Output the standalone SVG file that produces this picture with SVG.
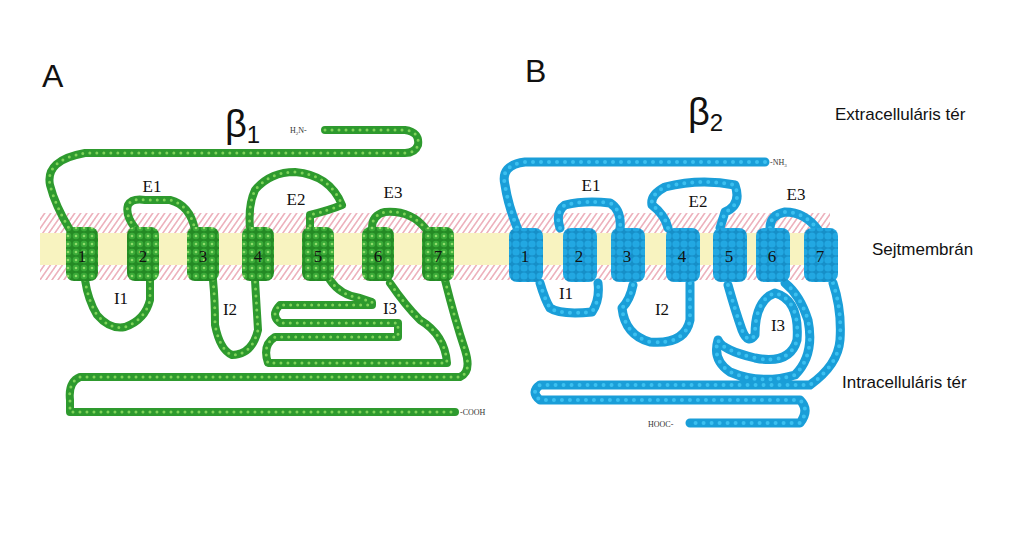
<svg xmlns="http://www.w3.org/2000/svg" width="1024" height="553" viewBox="0 0 1024 553">
<style>
.g{fill:none;stroke:#2e9a2e;stroke-width:8;stroke-linecap:round;stroke-linejoin:round}
.gd{fill:none;stroke:#7fd35a;stroke-width:3;stroke-dasharray:0 7;stroke-linecap:round}
.b{fill:none;stroke:#1a9ed8;stroke-width:9;stroke-linecap:round;stroke-linejoin:round}
.bd{fill:none;stroke:#3cc0f0;stroke-width:4;stroke-dasharray:0 8;stroke-linecap:round}
.lab{font-family:"Liberation Serif",serif;font-size:17px;fill:#111}
.sans{font-family:"Liberation Sans",Arial,sans-serif;fill:#111}
.tiny{font-family:"Liberation Serif",serif;font-size:8px;fill:#333}
</style>
<defs>
<pattern id="hatch" width="6" height="20" patternUnits="userSpaceOnUse" patternTransform="skewX(-35)">
<line x1="2" y1="0" x2="2" y2="20" stroke="#e79aa8" stroke-width="1.5"/>
</pattern>
<pattern id="gdots" width="8" height="8" patternUnits="userSpaceOnUse">
<rect width="8" height="8" fill="#248a24"/><circle cx="4" cy="4" r="3.3" fill="#3aab38"/><circle cx="4" cy="4" r="1.3" fill="#8fdc6a"/>
</pattern>
<pattern id="bdots" width="8" height="8" patternUnits="userSpaceOnUse">
<rect width="8" height="8" fill="#168fc8"/><circle cx="4" cy="4" r="3.6" fill="#22a8e2"/>
</pattern>
</defs>
<rect width="1024" height="553" fill="#fff"/>
<g id="membrane">
<rect x="40" y="213" width="790" height="20" fill="url(#hatch)"/>
<rect x="40" y="233" width="790" height="32" fill="#f8f3c0"/>
<rect x="40" y="265" width="790" height="15" fill="url(#hatch)"/>
</g>
<g id="connectors">
<path id="c1" class="g" d="M325 130 H405 Q420 132 418 145 Q415 153 405 153 H85 Q45 160 50 185 Q55 205 70 230 M85 280 Q88 300 97 315 Q110 330 125 327 Q145 320 150 300 V280 M135 228 Q125 215 128 205 Q132 198 145 200 H170 Q190 205 195 230 M213 280 Q215 300 215 325 Q220 350 232 355 Q252 355 258 330 L255 280 M250 228 Q248 205 255 190 Q270 172 295 172 Q330 175 342 205 Q330 210 310 215 L310 228 M330 280 Q340 295 360 298 L372 302 V305 H280 Q270 315 280 323 H398 V337 H275 Q262 345 268 363 H447 Q445 335 420 320 Q405 305 390 283 M372 228 Q372 215 385 212 Q410 210 425 228 M445 280 Q455 320 465 350 Q472 372 460 377 H80 Q68 382 70 400 V412 H455"/>
<path class="gd" d="M325 130 H405 Q420 132 418 145 Q415 153 405 153 H85 Q45 160 50 185 Q55 205 70 230 M85 280 Q88 300 97 315 Q110 330 125 327 Q145 320 150 300 V280 M135 228 Q125 215 128 205 Q132 198 145 200 H170 Q190 205 195 230 M213 280 Q215 300 215 325 Q220 350 232 355 Q252 355 258 330 L255 280 M250 228 Q248 205 255 190 Q270 172 295 172 Q330 175 342 205 Q330 210 310 215 L310 228 M330 280 Q340 295 360 298 L372 302 V305 H280 Q270 315 280 323 H398 V337 H275 Q262 345 268 363 H447 Q445 335 420 320 Q405 305 390 283 M372 228 Q372 215 385 212 Q410 210 425 228 M445 280 Q455 320 465 350 Q472 372 460 377 H80 Q68 382 70 400 V412 H455"/>
<path id="c2" class="b" d="M765 162 H525 Q500 165 505 185 Q508 205 518 230 M540 283 Q545 300 550 308 Q560 315 592 312 Q600 300 598 283 M560 228 Q555 212 565 205 Q585 200 610 203 Q622 210 620 230 M633 285 Q630 300 622 308 Q625 335 650 342 Q685 345 690 320 L690 283 M668 228 Q665 215 652 205 Q650 195 665 187 Q700 178 735 185 Q742 205 725 212 L720 228 M728 285 Q735 310 742 330 Q748 345 755 335 Q755 300 775 293 Q800 300 797 340 Q790 365 755 358 Q722 350 718 340 Q712 360 730 372 Q760 385 795 375 Q815 355 808 320 Q800 295 785 283 M770 228 Q770 215 785 212 Q805 212 818 230 M833 283 Q842 310 840 340 Q838 365 810 385 H540 Q530 392 540 400 H800 Q810 410 800 423 H690"/>
<path class="bd" d="M765 162 H525 Q500 165 505 185 Q508 205 518 230 M540 283 Q545 300 550 308 Q560 315 592 312 Q600 300 598 283 M560 228 Q555 212 565 205 Q585 200 610 203 Q622 210 620 230 M633 285 Q630 300 622 308 Q625 335 650 342 Q685 345 690 320 L690 283 M668 228 Q665 215 652 205 Q650 195 665 187 Q700 178 735 185 Q742 205 725 212 L720 228 M728 285 Q735 310 742 330 Q748 345 755 335 Q755 300 775 293 Q800 300 797 340 Q790 365 755 358 Q722 350 718 340 Q712 360 730 372 Q760 385 795 375 Q815 355 808 320 Q800 295 785 283 M770 228 Q770 215 785 212 Q805 212 818 230 M833 283 Q842 310 840 340 Q838 365 810 385 H540 Q530 392 540 400 H800 Q810 410 800 423 H690"/>
</g>
<g id="helices-b1">
<rect x="66" y="227" width="32" height="54" rx="8" fill="url(#gdots)"/>
<rect x="127" y="227" width="32" height="54" rx="8" fill="url(#gdots)"/>
<rect x="187" y="227" width="32" height="54" rx="8" fill="url(#gdots)"/>
<rect x="242" y="227" width="32" height="54" rx="8" fill="url(#gdots)"/>
<rect x="302" y="227" width="32" height="54" rx="8" fill="url(#gdots)"/>
<rect x="362" y="227" width="32" height="54" rx="8" fill="url(#gdots)"/>
<rect x="422" y="227" width="32" height="54" rx="8" fill="url(#gdots)"/>
</g>
<g id="helices-b2">
<rect x="509" y="228" width="34" height="54" rx="8" fill="url(#bdots)"/>
<rect x="563" y="228" width="34" height="54" rx="8" fill="url(#bdots)"/>
<rect x="611" y="228" width="34" height="54" rx="8" fill="url(#bdots)"/>
<rect x="666" y="228" width="34" height="54" rx="8" fill="url(#bdots)"/>
<rect x="713" y="228" width="34" height="54" rx="8" fill="url(#bdots)"/>
<rect x="756" y="228" width="34" height="54" rx="8" fill="url(#bdots)"/>
<rect x="804" y="228" width="34" height="54" rx="8" fill="url(#bdots)"/>
</g>
<g id="labels" class="lab" text-anchor="middle">
<text x="82" y="262">1</text><text x="143" y="262">2</text><text x="203" y="262">3</text><text x="258" y="262">4</text><text x="318" y="262">5</text><text x="378" y="262">6</text><text x="438" y="262">7</text>
<text x="525" y="262">1</text><text x="579" y="262">2</text><text x="627" y="262">3</text><text x="682" y="262">4</text><text x="729" y="262">5</text><text x="772" y="262">6</text><text x="820" y="262">7</text>
<text x="152" y="192">E1</text><text x="296" y="205">E2</text><text x="393" y="198">E3</text>
<text x="121" y="304">I1</text><text x="230" y="315">I2</text><text x="390" y="314">I3</text>
<text x="591" y="191">E1</text><text x="698" y="207">E2</text><text x="796" y="200">E3</text>
<text x="566" y="299">I1</text><text x="662" y="315">I2</text><text x="778" y="331">I3</text>
</g>
<text class="tiny" x="290" y="133">H<tspan font-size="5" dy="2">2</tspan><tspan dy="-2">N-</tspan></text>
<text class="tiny" x="460" y="415">-COOH</text>
<text class="tiny" x="770" y="165">-NH<tspan font-size="5" dy="2">3</tspan></text>
<text class="tiny" x="648" y="427">HOOC-</text>
<text class="sans" x="42" y="87" font-size="32">A</text>
<text class="sans" x="525" y="82" font-size="32">B</text>
<text class="sans" x="225" y="137" font-size="38">β<tspan font-size="24" dy="6">1</tspan></text>
<text class="sans" x="688" y="125" font-size="38">β<tspan font-size="24" dy="6">2</tspan></text>
<text class="sans" x="835" y="120" font-size="17">Extracelluláris tér</text>
<text class="sans" x="872" y="255" font-size="17">Sejtmembrán</text>
<text class="sans" x="842" y="388" font-size="17">Intracelluláris tér</text>
</svg>
